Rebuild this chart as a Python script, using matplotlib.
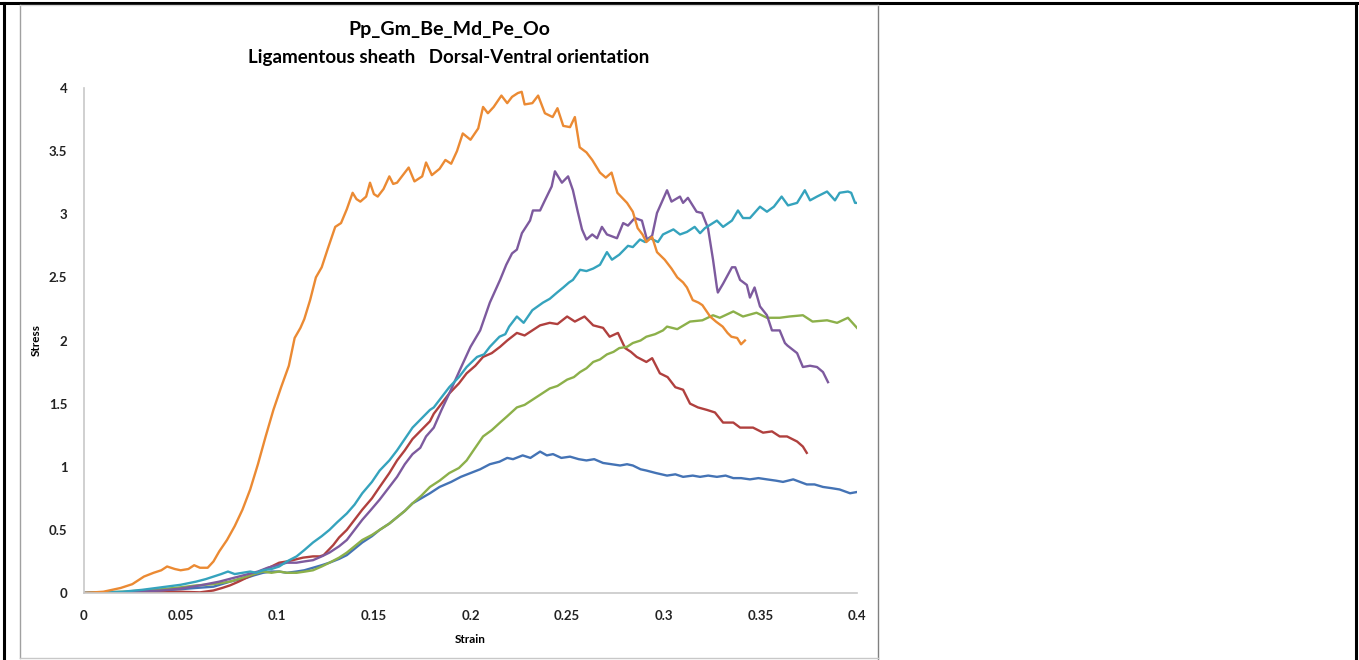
import matplotlib
matplotlib.use("Agg")
import matplotlib.pyplot as plt
from matplotlib.lines import Line2D

plt.rcParams['font.family'] = ['Lato', 'DejaVu Sans']

# (strain, stress) readings for each specimen, in drawing order
specimen_1 = [(0, 0), (0.02, 0.005), (0.04, 0.02), (0.05, 0.03), (0.058, 0.04), (0.067, 0.05),
              (0.0755, 0.09), (0.084, 0.12), (0.088, 0.14), (0.0926, 0.16), (0.097, 0.17), (0.101, 0.17),
              (0.105, 0.16), (0.110, 0.17), (0.114, 0.18), (0.1185, 0.20), (0.123, 0.22), (0.127, 0.24),
              (0.132, 0.27), (0.136, 0.30), (0.140, 0.35), (0.144, 0.40), (0.149, 0.45), (0.153, 0.50),
              (0.158, 0.55), (0.162, 0.60), (0.166, 0.65), (0.170, 0.71), (0.1745, 0.75), (0.179, 0.79),
              (0.184, 0.84), (0.19, 0.88), (0.195, 0.92), (0.2, 0.95), (0.205, 0.98), (0.21, 1.02),
              (0.215, 1.04), (0.219, 1.07), (0.222, 1.06), (0.227, 1.09), (0.231, 1.07), (0.236, 1.12),
              (0.2395, 1.09), (0.2427, 1.10), (0.247, 1.07), (0.2515, 1.08), (0.256, 1.06), (0.26, 1.05),
              (0.264, 1.06), (0.2686, 1.03), (0.273, 1.02), (0.2774, 1.01), (0.281, 1.02), (0.284, 1.01),
              (0.288, 0.98), (0.291, 0.97), (0.296, 0.95), (0.3017, 0.93), (0.306, 0.94), (0.31, 0.92),
              (0.315, 0.93), (0.3188, 0.92), (0.323, 0.93), (0.3275, 0.92), (0.332, 0.93), (0.336, 0.91),
              (0.34, 0.91), (0.3446, 0.90), (0.349, 0.91), (0.3534, 0.90), (0.358, 0.89), (0.3617, 0.88),
              (0.367, 0.90), (0.374, 0.86), (0.378, 0.86), (0.3824, 0.84), (0.387, 0.83), (0.391, 0.82),
              (0.3964, 0.79), (0.4, 0.80)]

specimen_2 = [(0, 0), (0.02, 0.0), (0.04, 0.005), (0.05, 0.01), (0.06, 0.005), (0.067, 0.02),
              (0.0715, 0.04), (0.0755, 0.06), (0.08, 0.09), (0.084, 0.12), (0.088, 0.15), (0.0926, 0.18),
              (0.097, 0.21), (0.101, 0.24), (0.105, 0.25), (0.108, 0.26), (0.1133, 0.28), (0.1185, 0.29),
              (0.122, 0.29), (0.124, 0.30), (0.129, 0.38), (0.132, 0.44), (0.136, 0.50), (0.140, 0.58),
              (0.144, 0.66), (0.149, 0.75), (0.153, 0.84), (0.158, 0.95), (0.162, 1.05), (0.166, 1.13),
              (0.170, 1.22), (0.1745, 1.29), (0.179, 1.36), (0.181, 1.42), (0.185, 1.50), (0.189, 1.58),
              (0.194, 1.66), (0.198, 1.74), (0.2025, 1.80), (0.2065, 1.87), (0.211, 1.90), (0.2153, 1.95),
              (0.219, 2.00), (0.224, 2.06), (0.228, 2.04), (0.232, 2.08), (0.236, 2.12), (0.241, 2.14),
              (0.245, 2.13), (0.25, 2.19), (0.254, 2.15), (0.259, 2.19), (0.2635, 2.12), (0.2686, 2.10),
              (0.272, 2.03), (0.2763, 2.06), (0.28, 1.94), (0.283, 1.91), (0.286, 1.87), (0.291, 1.83),
              (0.294, 1.86), (0.298, 1.74), (0.302, 1.71), (0.306, 1.63), (0.31, 1.61), (0.3136, 1.50),
              (0.3177, 1.47), (0.3224, 1.45), (0.3265, 1.43), (0.3307, 1.35), (0.336, 1.35), (0.3395, 1.31),
              (0.3462, 1.31), (0.3514, 1.27), (0.356, 1.28), (0.36, 1.24), (0.3638, 1.24), (0.369, 1.20),
              (0.372, 1.16), (0.374, 1.11)]

specimen_3 = [(0, 0), (0.02, 0.01), (0.04, 0.03), (0.05, 0.045), (0.058, 0.06), (0.067, 0.07),
              (0.0755, 0.09), (0.084, 0.13), (0.088, 0.15), (0.0926, 0.17), (0.097, 0.16), (0.101, 0.17),
              (0.105, 0.16), (0.110, 0.16), (0.1145, 0.17), (0.1185, 0.18), (0.123, 0.21), (0.127, 0.24),
              (0.132, 0.28), (0.136, 0.32), (0.140, 0.37), (0.144, 0.42), (0.149, 0.46), (0.153, 0.50),
              (0.158, 0.55), (0.162, 0.60), (0.166, 0.65), (0.170, 0.71), (0.1745, 0.77), (0.179, 0.84),
              (0.184, 0.89), (0.189, 0.95), (0.194, 0.99), (0.198, 1.05), (0.202, 1.14), (0.2065, 1.24),
              (0.211, 1.29), (0.2153, 1.35), (0.219, 1.40), (0.224, 1.47), (0.228, 1.49), (0.232, 1.53),
              (0.236, 1.57), (0.241, 1.62), (0.245, 1.64), (0.25, 1.69), (0.2535, 1.71), (0.2567, 1.75),
              (0.26, 1.78), (0.2635, 1.83), (0.267, 1.85), (0.2706, 1.89), (0.274, 1.91), (0.277, 1.94),
              (0.281, 1.95), (0.284, 1.98), (0.288, 2.00), (0.291, 2.03), (0.2955, 2.05), (0.2996, 2.08),
              (0.3017, 2.11), (0.307, 2.09), (0.3136, 2.15), (0.32, 2.16), (0.3255, 2.20), (0.329, 2.18),
              (0.336, 2.23), (0.341, 2.19), (0.348, 2.22), (0.3534, 2.18), (0.36, 2.18), (0.365, 2.19),
              (0.372, 2.20), (0.377, 2.15), (0.3845, 2.16), (0.3897, 2.14), (0.3953, 2.18), (0.4, 2.10)]

specimen_4 = [(0, 0), (0.02, 0.005), (0.04, 0.02), (0.05, 0.035), (0.06, 0.06), (0.07, 0.09),
              (0.08, 0.13), (0.09, 0.17), (0.095, 0.20), (0.1, 0.22), (0.105, 0.24), (0.11, 0.24),
              (0.114, 0.25), (0.1185, 0.26), (0.123, 0.29), (0.127, 0.32), (0.132, 0.37), (0.136, 0.42),
              (0.14, 0.50), (0.144, 0.58), (0.148, 0.65), (0.153, 0.74), (0.157, 0.82), (0.162, 0.92),
              (0.166, 1.02), (0.170, 1.10), (0.174, 1.15), (0.177, 1.24), (0.181, 1.31), (0.185, 1.45),
              (0.189, 1.58), (0.1946, 1.77), (0.2, 1.95), (0.205, 2.08), (0.21, 2.30), (0.2153, 2.48),
              (0.2185, 2.60), (0.2215, 2.69), (0.224, 2.72), (0.2266, 2.85), (0.2308, 2.95), (0.2323, 3.03),
              (0.236, 3.03), (0.2385, 3.11), (0.242, 3.22), (0.2437, 3.34), (0.2473, 3.25), (0.2505, 3.30),
              (0.253, 3.19), (0.2555, 3.02), (0.2577, 2.88), (0.26, 2.80), (0.263, 2.84), (0.2655, 2.81),
              (0.268, 2.90), (0.2706, 2.84), (0.2758, 2.81), (0.279, 2.93), (0.2815, 2.91), (0.285, 2.97),
              (0.2887, 2.95), (0.2913, 2.80), (0.294, 2.83), (0.2965, 3.01), (0.3017, 3.19), (0.304, 3.10),
              (0.3084, 3.14), (0.31, 3.09), (0.3125, 3.13), (0.317, 3.02), (0.3198, 3.01), (0.3229, 2.89),
              (0.3255, 2.64), (0.3275, 2.42), (0.328, 2.38), (0.3307, 2.45), (0.3353, 2.58), (0.337, 2.58),
              (0.3395, 2.48), (0.343, 2.44), (0.3446, 2.34), (0.347, 2.42), (0.3498, 2.27), (0.3534, 2.20),
              (0.356, 2.08), (0.36, 2.08), (0.3627, 1.98), (0.364, 1.96), (0.369, 1.90), (0.372, 1.79),
              (0.3757, 1.80), (0.3793, 1.79), (0.3824, 1.75), (0.385, 1.67)]

specimen_5 = [(0, 0), (0.02, 0.01), (0.03, 0.025), (0.04, 0.045), (0.05, 0.065), (0.058, 0.09),
              (0.063, 0.11), (0.067, 0.13), (0.071, 0.15), (0.0745, 0.17), (0.078, 0.15), (0.082, 0.16),
              (0.086, 0.17), (0.089, 0.16), (0.0926, 0.18), (0.097, 0.19), (0.101, 0.21), (0.105, 0.25),
              (0.110, 0.29), (0.114, 0.34), (0.1185, 0.40), (0.123, 0.45), (0.127, 0.50), (0.131, 0.56),
              (0.136, 0.63), (0.140, 0.70), (0.144, 0.79), (0.149, 0.88), (0.153, 0.97), (0.158, 1.05),
              (0.162, 1.13), (0.166, 1.22), (0.170, 1.31), (0.1745, 1.38), (0.179, 1.45), (0.181, 1.47),
              (0.185, 1.55), (0.189, 1.63), (0.194, 1.71), (0.198, 1.79), (0.2034, 1.87), (0.207, 1.89),
              (0.21, 1.95), (0.215, 2.03), (0.218, 2.05), (0.22, 2.11), (0.224, 2.19), (0.2275, 2.14),
              (0.232, 2.24), (0.2375, 2.30), (0.241, 2.33), (0.2448, 2.38), (0.248, 2.42), (0.251, 2.46),
              (0.253, 2.48), (0.2567, 2.56), (0.26, 2.55), (0.2635, 2.57), (0.267, 2.60), (0.2706, 2.70),
              (0.2732, 2.64), (0.277, 2.68), (0.2815, 2.75), (0.284, 2.74), (0.2877, 2.80), (0.2903, 2.78),
              (0.293, 2.81), (0.297, 2.78), (0.2996, 2.84), (0.305, 2.88), (0.3084, 2.84), (0.312, 2.86),
              (0.316, 2.90), (0.3188, 2.85), (0.3213, 2.89), (0.3275, 2.95), (0.3307, 2.90), (0.3353, 2.95),
              (0.3384, 3.03), (0.341, 2.97), (0.3446, 2.97), (0.3498, 3.06), (0.3534, 3.02), (0.357, 3.06),
              (0.361, 3.14), (0.3643, 3.07), (0.369, 3.09), (0.373, 3.19), (0.3757, 3.11), (0.3793, 3.14),
              (0.3845, 3.18), (0.3886, 3.11), (0.391, 3.17), (0.3953, 3.18), (0.397, 3.17), (0.399, 3.09),
              (0.4, 3.09)]

specimen_6 = [(0, 0), (0.01, 0.01), (0.019, 0.04), (0.025, 0.07), (0.031, 0.13), (0.036, 0.16),
              (0.04, 0.18), (0.043, 0.21), (0.047, 0.19), (0.05, 0.18), (0.054, 0.19), (0.057, 0.22),
              (0.06, 0.20), (0.064, 0.20), (0.067, 0.25), (0.07, 0.33), (0.074, 0.42), (0.078, 0.53),
              (0.082, 0.66), (0.086, 0.82), (0.09, 1.02), (0.094, 1.24), (0.098, 1.45), (0.102, 1.63),
              (0.106, 1.80), (0.109, 2.02), (0.112, 2.10), (0.114, 2.17), (0.117, 2.32), (0.12, 2.50),
              (0.123, 2.58), (0.126, 2.72), (0.13, 2.90), (0.133, 2.93), (0.136, 3.04), (0.139, 3.17),
              (0.141, 3.12), (0.143, 3.10), (0.146, 3.14), (0.148, 3.25), (0.150, 3.16), (0.152, 3.14),
              (0.155, 3.20), (0.158, 3.30), (0.160, 3.24), (0.162, 3.25), (0.165, 3.31), (0.168, 3.37),
              (0.171, 3.26), (0.175, 3.30), (0.177, 3.41), (0.180, 3.31), (0.184, 3.36), (0.187, 3.43),
              (0.190, 3.40), (0.193, 3.50), (0.196, 3.64), (0.200, 3.59), (0.204, 3.68), (0.2065, 3.85),
              (0.209, 3.80), (0.212, 3.85), (0.216, 3.94), (0.219, 3.88), (0.2215, 3.93), (0.2245, 3.96),
              (0.2265, 3.97), (0.228, 3.87), (0.232, 3.88), (0.235, 3.94), (0.2385, 3.80), (0.2425, 3.77),
              (0.245, 3.84), (0.248, 3.70), (0.2515, 3.69), (0.254, 3.77), (0.2565, 3.53), (0.26, 3.49),
              (0.263, 3.43), (0.267, 3.33), (0.27, 3.29), (0.273, 3.33), (0.276, 3.17), (0.281, 3.09),
              (0.284, 3.02), (0.2865, 2.89), (0.289, 2.84), (0.291, 2.78), (0.294, 2.82), (0.2965, 2.70),
              (0.3005, 2.64), (0.304, 2.57), (0.307, 2.50), (0.310, 2.46), (0.312, 2.42), (0.315, 2.32),
              (0.318, 2.30), (0.320, 2.28), (0.324, 2.19), (0.327, 2.15), (0.3305, 2.11), (0.333, 2.06),
              (0.335, 2.03), (0.338, 2.02), (0.340, 1.97), (0.342, 2.00)]

curves = [specimen_1, specimen_2, specimen_3, specimen_4, specimen_5, specimen_6]
colors = ['#4473B5', '#B0403E', '#8CB04A', '#7D5A9E', '#35A3BD', '#EB8A33']

x_ticks = [0, 0.05, 0.1, 0.15, 0.2, 0.25, 0.3, 0.35, 0.4]
x_labels = ['0', '0.05', '0.1', '0.15', '0.2', '0.25', '0.3', '0.35', '0.4']
y_ticks = [0, 0.5, 1, 1.5, 2, 2.5, 3, 3.5, 4]
y_labels = ['0', '0.5', '1', '1.5', '2', '2.5', '3', '3.5', '4']

W, H = 1359, 660
fig = plt.figure(figsize=(W / 100, H / 100), dpi=100)
ax = fig.add_axes([84 / W, 1 - 593 / H, (857 - 84) / W, (593 - 88) / H])

for pts, c in zip(curves, colors):
    xs = [p[0] for p in pts]
    ys = [p[1] for p in pts]
    ax.plot(xs, ys, color=c, lw=1.7, solid_joinstyle='round')

ax.set_xlim(0, 0.4)
ax.set_ylim(0, 4)
ax.set_xticks(x_ticks)
ax.set_xticklabels(x_labels, fontsize=9.5, fontweight='bold', color='#222222')
ax.set_yticks(y_ticks)
ax.set_yticklabels(y_labels, fontsize=9.5, fontweight='bold', color='#222222')
ax.tick_params(length=0, pad=12)
for s in ['top', 'right']:
    ax.spines[s].set_visible(False)
for s in ['left', 'bottom']:
    ax.spines[s].set_color('#C8C8C8')
    ax.spines[s].set_linewidth(1.2)

ax.set_xlabel('Strain', fontsize=8.5, fontweight='bold')
ax.set_ylabel('Stress', fontsize=8.5, fontweight='bold')
ax.xaxis.set_label_coords(0.5, (593 - 634) / 505)
ax.yaxis.set_label_coords((42 - 84) / 773, 0.5)

fig.text(449 / W, 1 - 30 / H, 'Pp_Gm_Be_Md_Pe_Oo', ha='center', va='center',
         fontsize=14, fontweight='bold')
fig.text(449 / W, 1 - 57 / H, 'Ligamentous sheath   Dorsal-Ventral orientation', ha='center',
         va='center', fontsize=13.5, fontweight='bold')

# table-like frame around the chart
def fline(x0, y0, x1, y1, color, lw):
    fig.add_artist(Line2D([x0 / W, x1 / W], [1 - y0 / H, 1 - y1 / H], color=color, lw=lw))

fline(0, 3, W, 3, 'black', 2.2)
fline(4, 3, 4, H, 'black', 2.2)
fline(1356, 3, 1356, H, 'black', 2.2)
fline(20, 5, 20, 658, '#A0A0A0', 1)
fline(878, 5, 878, H, '#808080', 1)
fline(20, 658, 878, 658, '#C8C8C8', 1)
fline(20, 5, 878, 5, '#D8D8D8', 1)

fig.savefig('out.png', dpi=100)
